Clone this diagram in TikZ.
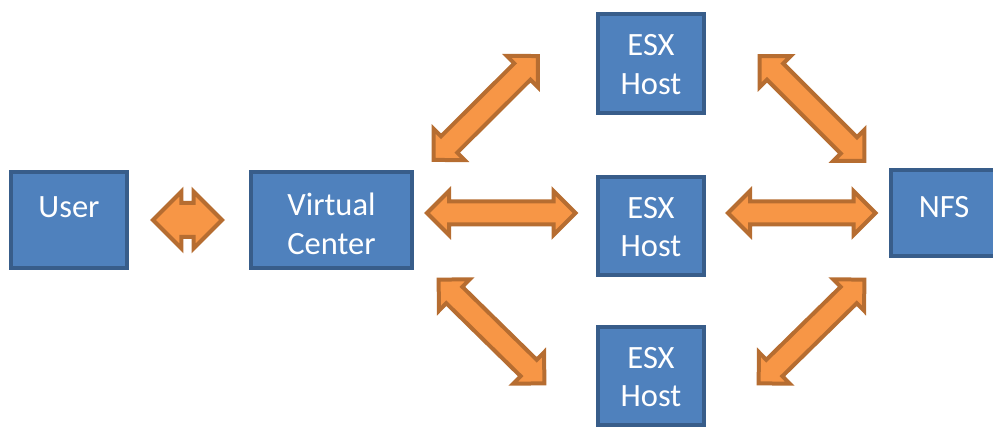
\documentclass[tikz,border=0pt]{standalone}
\usepackage{fontspec}
\setmainfont{Carlito}
\usetikzlibrary{calc,shapes.arrows}
\definecolor{boxfill}{HTML}{4F81BD}
\definecolor{boxline}{HTML}{385D8A}
\definecolor{arrfill}{HTML}{F79646}
\definecolor{arrline}{HTML}{B66D31}
\tikzset{hostbox/.style={draw=boxline, fill=boxfill, line width=0.08cm, text=white, align=center, inner sep=0pt,
                         font=\fontsize{18.5}{21.8}\selectfont},
         dblarrow/.style={shape=double arrow, draw=arrline, fill=arrfill, line width=0.08cm, minimum width=0pt,
                          double arrow tip angle=90, double arrow head extend=0.21cm, inner xsep=0pt, inner ysep=0.19cm},
         fatarrow/.style={dblarrow, double arrow head extend=0.23cm, inner ysep=0.3cm}}
\newcommand{\bigarrow}[3][]{%
  \path let \p1=($(#3)-(#2)$), \n1={atan2(\y1,\x1)}, \n2={veclen(\x1,\y1)} in
    node[dblarrow,#1,minimum height=\n2,rotate=\n1] (arr-#2-#3) at ($(#2)!0.5!(#3)$) {};}

\begin{document}
\begin{tikzpicture}[x=0.02cm, y=-0.02cm]
    \useasboundingbox (0,0) rectangle (993,428);

    % boxes
    \node[hostbox, minimum width=2.32cm, minimum height=1.92cm, text height=12pt, text depth=15.4pt] (user) at (69,220) {User};
    \node[hostbox, minimum width=3.22cm, minimum height=1.92cm, text height=39pt, text depth=0pt] (vc) at (331.5,220) {Virtual\\Center};
    \node[hostbox, minimum width=2.12cm, minimum height=1.98cm, text height=35pt, text depth=0pt] (esx1) at (651,63.5) {ESX\\Host};
    \node[hostbox, minimum width=2.12cm, minimum height=1.96cm, text height=34.5pt, text depth=0pt] (esx2) at (651,226) {ESX\\Host};
    \node[hostbox, minimum width=2.12cm, minimum height=1.96cm, text height=34.5pt, text depth=0pt] (esx3) at (651,376) {ESX\\Host};
    \node[hostbox, minimum width=2.12cm, minimum height=1.72cm, text height=12pt, text depth=7pt] (nfs) at (944,213) {NFS};

    % arrow ends
    \coordinate (u1) at (153,220);    \coordinate (u2) at (222,220);
    \coordinate (m1) at (427,213);    \coordinate (m2) at (575.5,213);
    \coordinate (m3) at (728,213);    \coordinate (m4) at (875.5,213);
    \coordinate (t1) at (433.5,160);  \coordinate (t2) at (538,56);
    \coordinate (t3) at (759.5,56);   \coordinate (t4) at (864.5,161);
    \coordinate (b1) at (438.5,279.5);\coordinate (b2) at (544.5,383.5);
    \coordinate (b3) at (758.5,383.5);\coordinate (b4) at (864.5,279.5);

    \bigarrow[fatarrow]{u1}{u2}
    \bigarrow{m1}{m2}
    \bigarrow{m3}{m4}
    \bigarrow{t1}{t2}
    \bigarrow{t3}{t4}
    \bigarrow{b1}{b2}
    \bigarrow{b3}{b4}
\end{tikzpicture}
\end{document}
